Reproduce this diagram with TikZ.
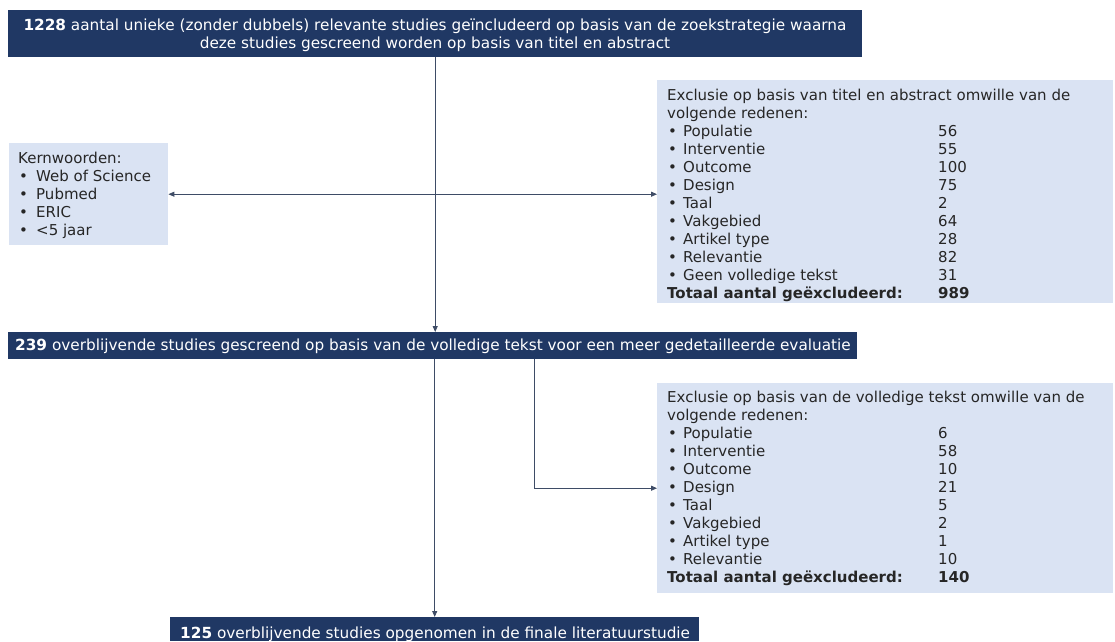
\documentclass[tikz,border=0pt]{standalone}
\usepackage{fontspec}
\setmainfont{DejaVu Sans}
\usetikzlibrary{arrows.meta}
\definecolor{navy}{HTML}{203864}
\definecolor{pale}{HTML}{DAE3F3}
\definecolor{lnk}{HTML}{3E4C66}
\definecolor{ink}{HTML}{262626}
\begin{document}
\begin{tikzpicture}[x=1pt,y=-1pt,
  txt/.style={anchor=base west, inner sep=0pt, font=\fontsize{15}{17}\selectfont, text=ink},
  wtxt/.style={inner sep=0pt, font=\fontsize{15.3}{18}\selectfont, text=white},
  darkbox/.style={fill=navy, draw=none, inner sep=0pt, anchor=north west},
  lightbox/.style={fill=pale, draw=none, inner sep=0pt, anchor=north west},
  conn/.style={draw=lnk, line width=0.9pt, -{Triangle[length=6pt,width=5pt]}},
  conn2/.style={draw=lnk, line width=0.9pt, {Triangle[length=6pt,width=5pt]}-{Triangle[length=6pt,width=5pt]}}]
\useasboundingbox[fill=white] (0,0) rectangle (1115,641);

% dark boxes
\node[darkbox, minimum width=854pt, minimum height=47pt] (top) at (8,10) {};
\node[darkbox, minimum width=849pt, minimum height=27pt] (mid) at (8,332) {};
\node[darkbox, minimum width=529pt, minimum height=24pt] (final) at (170,617) {};

% light boxes
\node[lightbox, minimum width=159pt, minimum height=102pt] (kern) at (9,143) {};
\node[lightbox, minimum width=456pt, minimum height=223pt] (ex1) at (657,80) {};
\node[lightbox, minimum width=456pt, minimum height=210pt] (ex2) at (657,383) {};

% dark box texts
\node[wtxt, anchor=base] (t1) at (435,30) {\textbf{1228} aantal unieke (zonder dubbels) relevante studies geïncludeerd op basis van de zoekstrategie waarna};
\node[wtxt, anchor=base] (t2) at (435,48.5) {deze studies gescreend worden op basis van titel en abstract};
\node[wtxt, anchor=base west] (m1) at (15,350.5) {\textbf{239} overblijvende studies gescreend op basis van de volledige tekst voor een meer gedetailleerde evaluatie};
\node[wtxt, anchor=base west] (f1) at (180,638) {\textbf{125} overblijvende studies opgenomen in de finale literatuurstudie};

% Kernwoorden
\node[txt] (k0) at (18,163) {Kernwoorden:};
\foreach [count=\k] \a in {Web of Science, Pubmed, ERIC, <5 jaar} {
  \node[txt] (kb\k) at (19,{163+18*\k}) {•};
  \node[txt] (ki\k) at (36,{163+18*\k}) {\a};
}

% Exclusie 1
\node[txt] (e10) at (667,100.5) {Exclusie op basis van titel en abstract omwille van de};
\node[txt] (e11) at (667,118.5) {volgende redenen:};
\foreach [count=\k] \a/\b in {Populatie/56, Interventie/55, Outcome/100, Design/75, Taal/2, Vakgebied/64, Artikel type/28, Relevantie/82, Geen volledige tekst/31} {
  \node[txt] (e1b\k) at (668,{118.5+18*\k}) {•};
  \node[txt] (e1i\k) at (683,{118.5+18*\k}) {\a};
  \node[txt] (e1n\k) at (938,{118.5+18*\k}) {\b};
}
\node[txt] (e1t) at (667,298.5) {\textbf{Totaal aantal geëxcludeerd:}};
\node[txt] (e1tn) at (938,298.5) {\textbf{989}};

% Exclusie 2
\node[txt] (e20) at (667,402.5) {Exclusie op basis van de volledige tekst omwille van de};
\node[txt] (e21) at (667,420.5) {volgende redenen:};
\foreach [count=\k] \a/\b in {Populatie/6, Interventie/58, Outcome/10, Design/21, Taal/5, Vakgebied/2, Artikel type/1, Relevantie/10} {
  \node[txt] (e2b\k) at (668,{420.5+18*\k}) {•};
  \node[txt] (e2i\k) at (683,{420.5+18*\k}) {\a};
  \node[txt] (e2n\k) at (938,{420.5+18*\k}) {\b};
}
\node[txt] (e2t) at (667,582.5) {\textbf{Totaal aantal geëxcludeerd:}};
\node[txt] (e2tn) at (938,582.5) {\textbf{140}};

% connectors
\draw[conn] (top.south) -- (top.south |- mid.north);
\draw[conn2] (kern.east) -- (kern.east -| ex1.west);
\draw[conn] (final.north |- mid.south) -- (final.north);
\draw[conn] ([xshift=102pt]mid.south) |- (ex2.west);
\end{tikzpicture}
\end{document}
